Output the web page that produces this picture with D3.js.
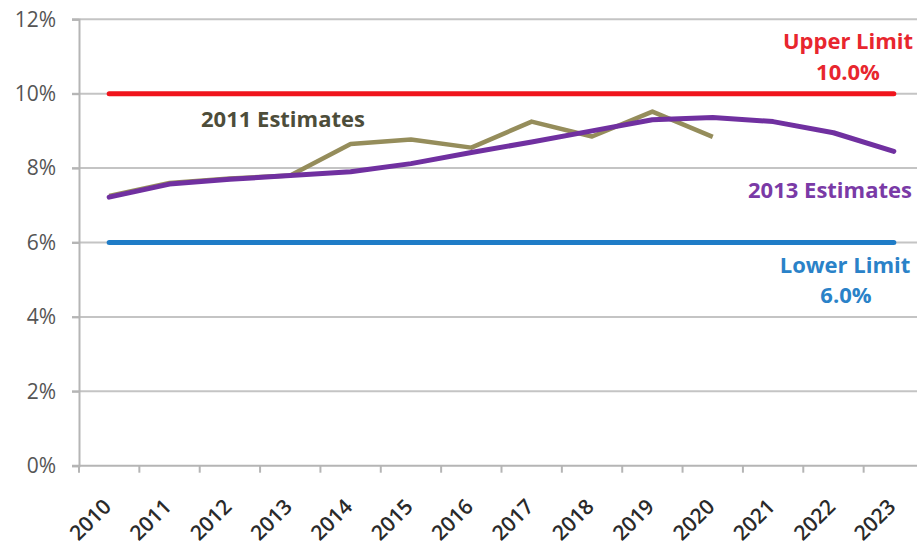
<!DOCTYPE html>
<html>
<head>
<meta charset="utf-8">
<script src="https://cdn.jsdelivr.net/npm/d3@7"></script>
<style>
  html, body { margin: 0; padding: 0; background: #fff; }
  svg { display: block; }
  text { font-family: "Open Sans", Lato, "DejaVu Sans", sans-serif; }
</style>
</head>
<body>
<svg id="chart" width="917" height="548"></svg>
<script>
// Years on the category axis
const years = ["2010","2011","2012","2013","2014","2015","2016","2017","2018","2019","2020","2021","2022","2023"];
// Percent values
const estimates2011 = [7.25, 7.6, 7.72, 7.8, 8.65, 8.77, 8.55, 9.25, 8.85, 9.52, 8.84];
const estimates2013 = [7.22, 7.57, 7.7, 7.8, 7.9, 8.12, 8.42, 8.7, 9.0, 9.3, 9.36, 9.25, 8.95, 8.45];
const upperLimit = 10.0;
const lowerLimit = 6.0;
const yTicks = [0, 2, 4, 6, 8, 10, 12];

const svg = d3.select("#chart");
const plotLeft = 79, plotRight = 924, plotTop = 19.3, plotBottom = 465.7;

const x = d3.scaleBand().domain(years).range([plotLeft, plotRight]).paddingInner(0).paddingOuter(0);
const y = d3.scaleLinear().domain([0, 12]).range([plotBottom, plotTop]);
const cx = yr => x(yr) + x.bandwidth() / 2;

// Horizontal gridlines
svg.append("g").selectAll("line").data(yTicks.filter(t => t > 0)).join("line")
  .attr("x1", plotLeft - 7).attr("x2", 917)
  .attr("y1", d => y(d)).attr("y2", d => y(d))
  .attr("stroke", "#c4c4c4").attr("stroke-width", 2);

// Y axis
const yAxis = svg.append("g").attr("transform", `translate(${plotLeft},0)`)
  .call(d3.axisLeft(y).tickValues(yTicks).tickSize(7).tickPadding(16).tickFormat(d => d + "%"));
yAxis.select(".domain").attr("stroke", "#b5b5b5").attr("stroke-width", 2);
yAxis.selectAll(".tick line").attr("stroke", "#b5b5b5").attr("stroke-width", 2);
yAxis.selectAll("text").attr("font-size", 21).attr("fill", "#555")
  .attr("font-family", "'Open Sans', sans-serif");

// X axis with ticks at category boundaries
const xAxisG = svg.append("g").attr("transform", `translate(0,${plotBottom})`);
xAxisG.append("line").attr("x1", plotLeft - 7).attr("x2", 917).attr("y1", 0).attr("y2", 0)
  .attr("stroke", "#b5b5b5").attr("stroke-width", 2);
xAxisG.selectAll("line.tk").data(years).join("line").attr("class", "tk")
  .attr("x1", d => x(d)).attr("x2", d => x(d)).attr("y1", 0).attr("y2", 7)
  .attr("stroke", "#b5b5b5").attr("stroke-width", 2);
xAxisG.selectAll("text").data(years).join("text")
  .attr("transform", d => `translate(${cx(d) - 2},${37}) rotate(-45)`)
  .attr("text-anchor", "end").attr("dy", "0.35em")
  .attr("font-size", 21).attr("font-weight", 600).attr("fill", "#2a2a2a")
  .text(d => d);

// Limit lines
svg.append("line").attr("x1", cx(years[0])).attr("x2", cx(years[years.length - 1]))
  .attr("y1", y(upperLimit)).attr("y2", y(upperLimit))
  .attr("stroke", "#f0141c").attr("stroke-width", 5).attr("stroke-linecap", "round");
svg.append("line").attr("x1", cx(years[0])).attr("x2", cx(years[years.length - 1]))
  .attr("y1", y(lowerLimit)).attr("y2", y(lowerLimit))
  .attr("stroke", "#1f7cc7").attr("stroke-width", 5).attr("stroke-linecap", "round");

const line = d3.line().x((d, i) => cx(years[i])).y(d => y(d));

// 2011 Estimates series
svg.append("path").datum(estimates2011).attr("d", line)
  .attr("fill", "none").attr("stroke", "#958d5b").attr("stroke-width", 4.5)
  .attr("stroke-linejoin", "round");

// 2013 Estimates series
svg.append("path").datum(estimates2013).attr("d", line)
  .attr("fill", "none").attr("stroke", "#7030a0").attr("stroke-width", 5)
  .attr("stroke-linejoin", "round").attr("stroke-linecap", "round");

// Annotations
const ann = (txt, xPos, yPos, color) => svg.append("text")
  .attr("x", xPos).attr("y", yPos).attr("text-anchor", "middle")
  .attr("font-size", 22).attr("font-weight", "bold").attr("fill", color).text(txt);
ann("Upper Limit", 848, 49, "#e8262e");
ann(upperLimit.toFixed(1) + "%", 848, 80, "#e8262e");
ann("2011 Estimates", 283, 127, "#4d4d3a");
ann("2013 Estimates", 830, 198, "#7a3aa6");
ann("Lower Limit", 845, 273, "#2a82c8");
ann(lowerLimit.toFixed(1) + "%", 846, 303, "#2a82c8");
</script>
</body>
</html>
